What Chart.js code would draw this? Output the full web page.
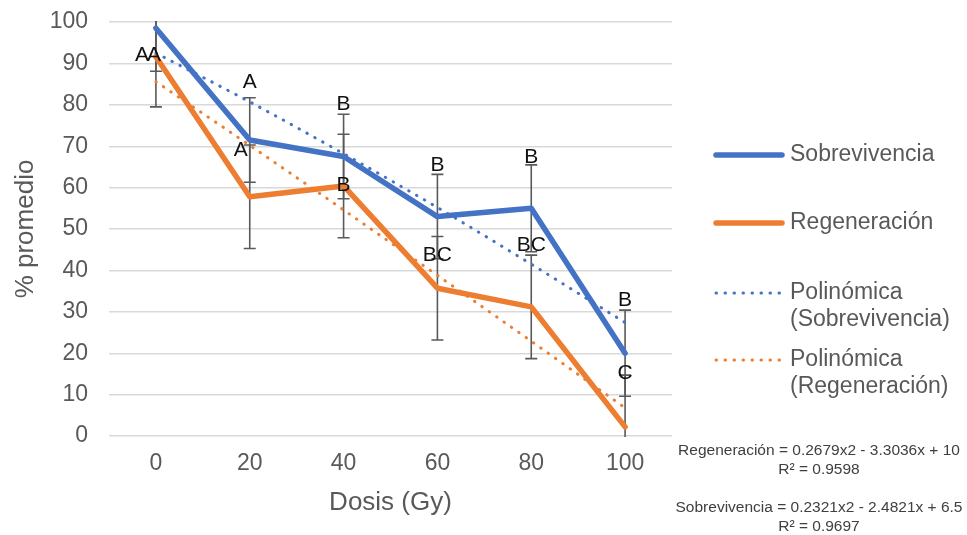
<!DOCTYPE html>
<html>
<head>
<meta charset="utf-8">
<script src="https://cdn.jsdelivr.net/npm/chart.js@4.4.0/dist/chart.umd.min.js"></script>
<style>
  body { margin: 0; background: #fff; }
  #grafico { display: block; }
</style>
</head>
<body>
<canvas id="grafico" width="967" height="535"></canvas>
<script>
const dosis = ["0", "20", "40", "60", "80", "100"];

const sobrevivencia = [98.5, 71.5, 67.5, 53.0, 55.0, 20.0];
const regeneracion = [91.6, 57.8, 60.4, 35.7, 31.2, 2.2];

const errSobrevivencia = [10.4, 10.2, 10.2, 10.2, 10.5, 10.4];
const errRegeneracion = [12.1, 12.5, 12.5, 12.5, 12.5, 12.5];

const tendSobrevivencia = [92.5, 80.7, 68.2, 55.2, 41.5, 27.4];
const tendRegeneracion = [85.6, 70.2, 54.6, 38.8, 22.9, 6.8];

// letras de significancia y el nivel (en %) donde se escriben
const letrasSobrevivencia = ["A", "A", "B", "B", "B", "B"];
const letrasRegeneracion = ["A", "A", "B", "BC", "BC", "C"];
const nivelSobrevivencia = [92, 85.5, 80.2, 65.5, 67.4, 32.9];
const nivelRegeneracion = [92, 69.1, 60.6, 43.7, 46.1, 15.2];

const ecuaciones = [
  "Regeneración = 0.2679x2 - 3.3036x + 10",
  "R² = 0.9598",
  "Sobrevivencia = 0.2321x2 - 2.4821x + 6.5",
  "R² = 0.9697"
];

const AZUL = "#4472C4";
const NARANJA = "#ED7D31";
const GRIS = "#595959";
const FUENTE = "'Liberation Sans', Arial, sans-serif";

// barras de error debajo de las líneas
const barrasError = {
  id: "barrasError",
  beforeDatasetsDraw(chart) {
    const ctx = chart.ctx;
    const x = chart.scales.x, y = chart.scales.y;
    const area = chart.chartArea;
    const series = [[sobrevivencia, errSobrevivencia], [regeneracion, errRegeneracion]];
    ctx.save();
    ctx.beginPath();
    ctx.rect(area.left, area.top - 1, area.right - area.left, area.bottom - area.top + 2);
    ctx.clip();
    ctx.strokeStyle = GRIS;
    ctx.lineWidth = 1.6;
    series.forEach(([valores, errores]) => {
      valores.forEach((v, i) => {
        const px = x.getPixelForValue(i);
        const arriba = y.getPixelForValue(v + errores[i]);
        const abajo = y.getPixelForValue(v - errores[i]);
        ctx.beginPath();
        ctx.moveTo(px, arriba);
        ctx.lineTo(px, abajo);
        ctx.moveTo(px - 6, arriba);
        ctx.lineTo(px + 6, arriba);
        ctx.moveTo(px - 6, abajo);
        ctx.lineTo(px + 6, abajo);
        ctx.stroke();
      });
    });
    ctx.restore();
  }
};

// letras, leyenda y ecuaciones de tendencia
const textos = {
  id: "textos",
  afterDraw(chart) {
    const ctx = chart.ctx;
    const x = chart.scales.x, y = chart.scales.y;
    ctx.save();

    ctx.font = "21px " + FUENTE;
    ctx.fillStyle = "#111";
    ctx.textAlign = "center";
    ctx.textBaseline = "middle";
    // las dos "A" de dosis 0 quedan juntas; la de 20 Gy se corre a la izquierda
    const correr = { "s0": -14, "r0": -2, "r1": -9 };
    letrasSobrevivencia.forEach((l, i) => {
      ctx.fillText(l, x.getPixelForValue(i) + (correr["s" + i] || 0), y.getPixelForValue(nivelSobrevivencia[i]));
    });
    letrasRegeneracion.forEach((l, i) => {
      ctx.fillText(l, x.getPixelForValue(i) + (correr["r" + i] || 0), y.getPixelForValue(nivelRegeneracion[i]));
    });

    // leyenda
    const filas = [155, 223, 293, 360];
    ctx.font = "23px " + FUENTE;
    ctx.textAlign = "left";
    chart.data.datasets.forEach((ds, i) => {
      const fy = filas[i];
      ctx.strokeStyle = ds.borderColor;
      ctx.lineWidth = ds.borderWidth;
      ctx.lineCap = "round";
      ctx.setLineDash(ds.borderDash || []);
      ctx.beginPath();
      ctx.moveTo(716, fy);
      ctx.lineTo(782, fy);
      ctx.stroke();
      ctx.setLineDash([]);
      ctx.fillStyle = GRIS;
      const lineas = Array.isArray(ds.label) ? ds.label : [ds.label];
      lineas.forEach((t, k) => ctx.fillText(t, 790, fy + k * 27));
    });

    ctx.font = "15.5px " + FUENTE;
    ctx.fillStyle = "#404040";
    ctx.textAlign = "center";
    const ey = [451, 470, 508, 527];
    ecuaciones.forEach((t, i) => ctx.fillText(t, 819, ey[i]));
    ctx.restore();
  }
};

new Chart("grafico", {
  type: "line",
  data: {
    labels: dosis,
    datasets: [
      {
        label: "Sobrevivencia",
        data: sobrevivencia,
        borderColor: AZUL,
        backgroundColor: AZUL,
        borderWidth: 5.5,
        borderJoinStyle: "round",
        borderCapStyle: "round",
        pointRadius: 0,
        tension: 0,
        fill: false,
        order: 2
      },
      {
        label: "Regeneración",
        data: regeneracion,
        borderColor: NARANJA,
        backgroundColor: NARANJA,
        borderWidth: 5.5,
        borderJoinStyle: "round",
        borderCapStyle: "round",
        pointRadius: 0,
        tension: 0,
        fill: false,
        order: 1
      },
      {
        label: ["Polinómica", "(Sobrevivencia)"],
        data: tendSobrevivencia,
        borderColor: AZUL,
        borderWidth: 3,
        borderDash: [0.5, 8.5],
        borderCapStyle: "round",
        pointRadius: 0,
        cubicInterpolationMode: "monotone",
        fill: false,
        order: 0
      },
      {
        label: ["Polinómica", "(Regeneración)"],
        data: tendRegeneracion,
        borderColor: NARANJA,
        borderWidth: 3,
        borderDash: [0.5, 8.5],
        borderCapStyle: "round",
        pointRadius: 0,
        cubicInterpolationMode: "monotone",
        fill: false,
        order: 0
      }
    ]
  },
  options: {
    responsive: false,
    animation: false,
    layout: { padding: { left: 8, top: 22, right: 295, bottom: 0 } },
    plugins: {
      legend: { display: false },
      tooltip: { enabled: false }
    },
    scales: {
      x: {
        offset: true,
        grid: { display: false, drawTicks: false },
        border: { display: false },
        ticks: { color: GRIS, font: { size: 23, family: FUENTE }, padding: 14 },
        title: {
          display: true,
          text: "Dosis (Gy)",
          color: GRIS,
          font: { size: 26, family: FUENTE },
          padding: { top: 0, bottom: 17 }
        },
        afterFit(scale) { scale.height = 99; }
      },
      y: {
        min: 0,
        max: 100,
        ticks: { stepSize: 10, color: GRIS, font: { size: 23, family: FUENTE }, padding: 21 },
        grid: { color: "#D9D9D9", lineWidth: 1.4, drawTicks: false },
        border: { display: false },
        title: {
          display: true,
          text: "% promedio",
          color: GRIS,
          font: { size: 26, family: FUENTE },
          padding: { top: 2, bottom: 0 }
        },
        afterFit(scale) {
          scale.width = 101;
          scale.paddingTop = 0;
          scale.paddingBottom = 0;
        }
      }
    }
  },
  plugins: [barrasError, textos]
});
</script>
</body>
</html>
